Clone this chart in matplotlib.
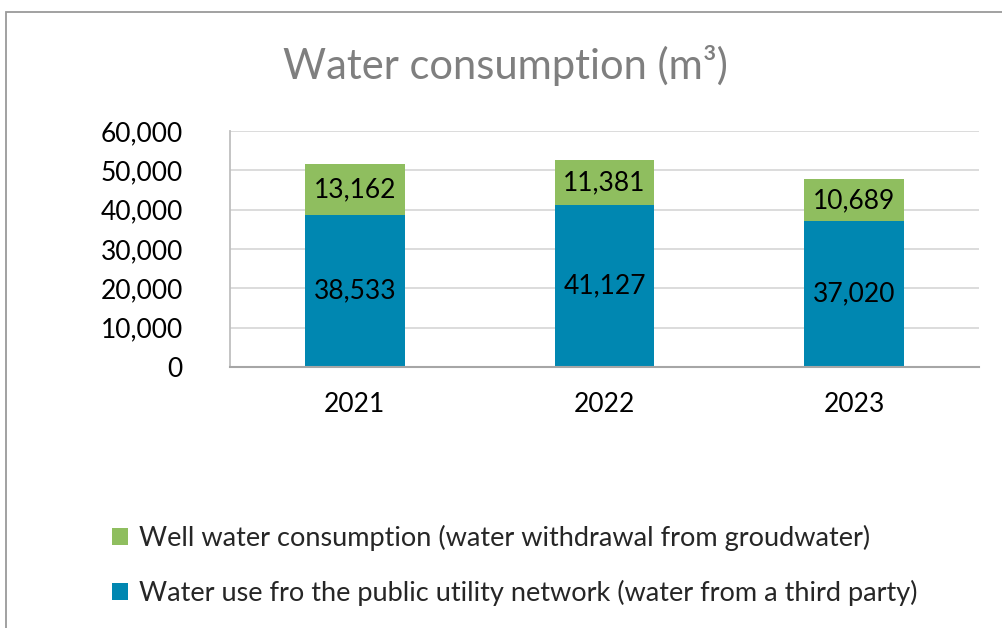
import matplotlib.pyplot as plt
from matplotlib.patches import Rectangle, Patch
from matplotlib.ticker import FuncFormatter

plt.rcParams['font.family'] = ['Lato', 'DejaVu Sans']

years = ['2021', '2022', '2023']
utility_water = [38533, 41127, 37020]
well_water = [13162, 11381, 10689]

blue = '#0087B1'
green = '#8FBE5F'

fig = plt.figure(figsize=(10.03, 6.28), dpi=100)
W, H = 1003, 628

# outer chart border (right and bottom edges fall off the canvas)
fig.patches.append(Rectangle((6.5 / W, -0.2), 1.2, 1 - 11.5 / H + 0.2,
                             transform=fig.transFigure, fill=False,
                             edgecolor='#9A9A9A', linewidth=1.3))

ax = fig.add_axes([230 / W, 1 - 367 / H, 749 / W, (367 - 131) / H])

x = range(len(years))
b1 = ax.bar(x, utility_water, width=0.4, color=blue, zorder=3)
b2 = ax.bar(x, well_water, width=0.4, bottom=utility_water, color=green, zorder=3)

for i in x:
    ax.text(i, utility_water[i] / 2, f'{utility_water[i]:,}', ha='center', va='center',
            fontsize=19, color='black', zorder=4)
    ax.text(i, utility_water[i] + well_water[i] / 2, f'{well_water[i]:,}', ha='center',
            va='center', fontsize=19, color='black', zorder=4)

ax.set_xlim(-0.5, 2.5)
ax.set_ylim(0, 60000)
ax.set_yticks(range(0, 60001, 10000))
ax.yaxis.set_major_formatter(FuncFormatter(lambda v, p: f'{int(v):,}'))
ax.set_xticks(list(x))
ax.set_xticklabels(years)
ax.tick_params(axis='both', length=0, labelsize=19, colors='black')
ax.tick_params(axis='x', pad=18)
ax.tick_params(axis='y', pad=34)

ax.grid(axis='y', color='#D9D9D9', linewidth=1.3, zorder=0)
for s in ['top', 'right']:
    ax.spines[s].set_visible(False)
ax.spines['left'].set_color('#BFBFBF')
ax.spines['left'].set_linewidth(1.3)
ax.spines['bottom'].set_color('#A6A6A6')
ax.spines['bottom'].set_linewidth(1.5)
ax.spines['bottom'].set_zorder(5)

fig.text(505 / W, 1 - 66 / H, 'Water consumption (m³)', ha='center', va='center',
         fontsize=30, color='#7F7F7F')

handles = [Patch(facecolor=green), Patch(facecolor=blue)]
labels = ['Well water consumption (water withdrawal from groudwater)',
          'Water use fro the public utility network (water from a third party)']
fig.legend(handles, labels, loc='upper left', bbox_to_anchor=(112 / W, 1 - 525 / H),
           frameon=False, fontsize=19.5, labelcolor='#262626', handlelength=0.6,
           handleheight=0.6, handletextpad=0.4, labelspacing=1.05, borderpad=0,
           borderaxespad=0)

fig.savefig('out.png', dpi=100)
